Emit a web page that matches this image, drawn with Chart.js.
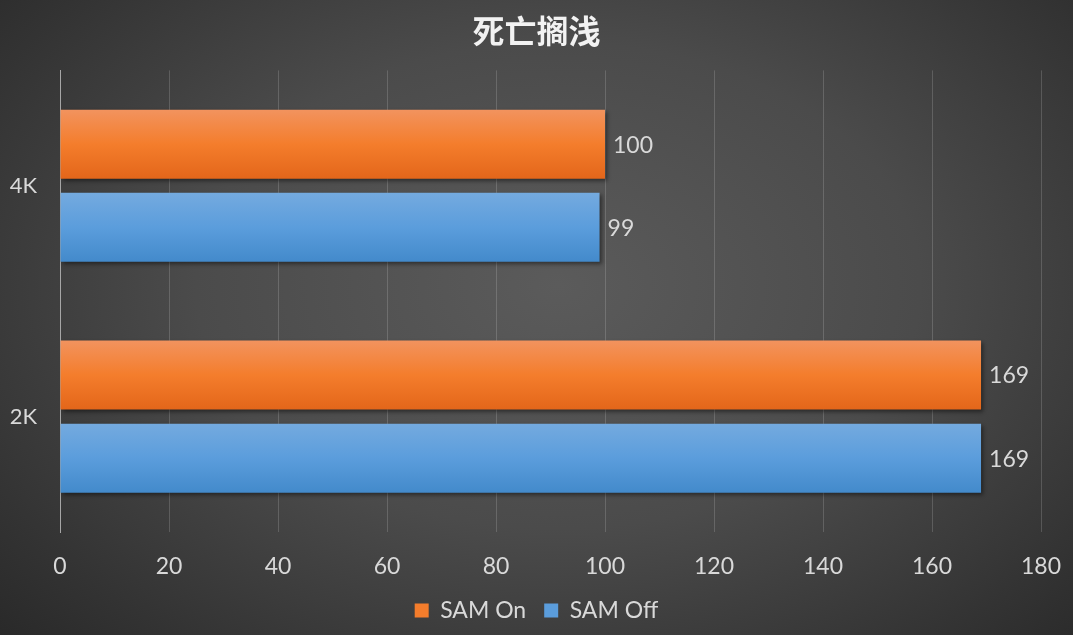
<!DOCTYPE html>
<html>
<head>
<meta charset="utf-8">
<script src="https://cdn.jsdelivr.net/npm/chart.js@4.4.1/dist/chart.umd.min.js"></script>
<style>
  html, body { margin: 0; padding: 0; }
  body {
    width: 1073px; height: 635px; overflow: hidden;
    background: radial-gradient(ellipse 75% 85% at 52% 45%, #5b5b5b 0%, #4b4b4b 45%, #333333 80%, #262626 100%);
  }
  #wrap { width: 1073px; height: 635px; }
</style>
</head>
<body>
<div id="wrap"><canvas id="samChart"></canvas></div>
<script>
var categories = ['4K', '2K'];
var samOn = [100, 169];
var samOff = [99, 169];
var xTicks = [0, 20, 40, 60, 80, 100, 120, 140, 160, 180];

var catPct = 0.72;
var barPct = 0.83;

// vertical gradient for each bar, worked out from the y scale
function barFill(stops, side) {
    return function (context) {
        var chart = context.chart;
        var y = chart.scales.y;
        if (!chart.chartArea || !y) return stops[1];
        var band = y.height / categories.length;
        var slot = band * catPct / 2;
        var center = y.getPixelForValue(context.dataIndex) + side * slot / 2;
        var half = slot * barPct / 2;
        var g = chart.ctx.createLinearGradient(0, center - half, 0, center + half);
        g.addColorStop(0, stops[0]);
        g.addColorStop(0.5, stops[1]);
        g.addColorStop(1, stops[2]);
        return g;
    };
}

var orange = ['#f2935e', '#f47d2c', '#e3661a'];
var blue = ['#74aadf', '#5b9ddc', '#438acb'];

var valueLabels = {
    id: 'valueLabels',
    afterDatasetsDraw: function (chart) {
        var c = chart.ctx;
        c.save();
        c.font = '23px Lato';
        c.fillStyle = '#d9d9d9';
        c.textBaseline = 'middle';
        chart.data.datasets.forEach(function (ds, i) {
            chart.getDatasetMeta(i).data.forEach(function (bar, j) {
                c.fillText(ds.data[j], bar.x + 8, bar.y + 1);
            });
        });
        c.restore();
    }
};

var barShadow = {
    id: 'barShadow',
    beforeDatasetsDraw: function (chart) {
        var c = chart.ctx;
        c.save();
        c.shadowColor = 'rgba(0,0,0,0.45)';
        c.shadowBlur = 4;
        c.shadowOffsetX = 2;
        c.shadowOffsetY = 2;
    },
    afterDatasetsDraw: function (chart) {
        chart.ctx.restore();
    }
};

// keep the legend box short so it sits near the bottom edge
var legendSize = {
    id: 'legendSize',
    afterInit: function (chart) {
        var lg = chart.legend;
        var fit = lg.fit;
        lg.fit = function () {
            fit.call(this);
            this.height = 54;
        };
    }
};

var ctx = document.getElementById('samChart').getContext('2d');
var samChart = new Chart(ctx, {
    type: 'bar',
    data: {
        labels: categories,
        datasets: [{
            label: 'SAM On',
            data: samOn,
            backgroundColor: barFill(orange, -1),
            borderWidth: 0
        }, {
            label: 'SAM Off',
            data: samOff,
            backgroundColor: barFill(blue, 1),
            borderWidth: 0
        }]
    },
    options: {
        indexAxis: 'y',
        responsive: true,
        maintainAspectRatio: false,
        animation: false,
        categoryPercentage: catPct,
        barPercentage: barPct,
        layout: {
            padding: { top: 10, left: 8, right: 8, bottom: 0 }
        },
        scales: {
            x: {
                min: 0,
                max: 180,
                afterBuildTicks: function (scale) {
                    scale.ticks = xTicks.map(function (v) { return { value: v }; });
                },
                afterFit: function (scale) {
                    scale.height = 49;
                    scale.paddingLeft = 0;
                    scale.paddingRight = 0;
                },
                grid: {
                    color: 'rgba(255,255,255,0.16)',
                    lineWidth: 1,
                    drawTicks: false
                },
                border: { display: false },
                ticks: {
                    color: '#d9d9d9',
                    font: { family: 'Lato', size: 23 },
                    padding: 21
                }
            },
            y: {
                afterFit: function (scale) { scale.width = 52; },
                grid: { display: false, drawTicks: false },
                border: { display: true, color: '#a6a6a6', width: 1 },
                ticks: {
                    color: '#d9d9d9',
                    font: { family: 'Lato', size: 22 },
                    padding: 23
                }
            },
            // empty right-hand axis, only there to leave room on the right
            yRight: {
                position: 'right',
                afterFit: function (scale) { scale.width = 24; },
                grid: { display: false, drawTicks: false },
                border: { display: false },
                ticks: { display: false }
            }
        },
        plugins: {
            title: {
                display: true,
                text: '死亡搁浅',
                color: '#f2f2f2',
                font: { family: '"Noto Sans CJK SC"', size: 32, weight: 'bold' },
                padding: { top: 2, bottom: 20 }
            },
            legend: {
                position: 'bottom',
                labels: {
                    color: '#d9d9d9',
                    font: { family: 'Lato', size: 23 },
                    boxWidth: 14,
                    boxHeight: 14,
                    padding: 18,
                    generateLabels: function (chart) {
                        return chart.data.datasets.map(function (ds, i) {
                            return {
                                text: ds.label,
                                fillStyle: i === 0 ? orange[1] : blue[1],
                                strokeStyle: 'rgba(0,0,0,0)',
                                lineWidth: 0,
                                fontColor: '#d9d9d9',
                                datasetIndex: i
                            };
                        });
                    }
                }
            },
            tooltip: { enabled: false }
        }
    },
    plugins: [barShadow, valueLabels, legendSize]
});
</script>
</body>
</html>
